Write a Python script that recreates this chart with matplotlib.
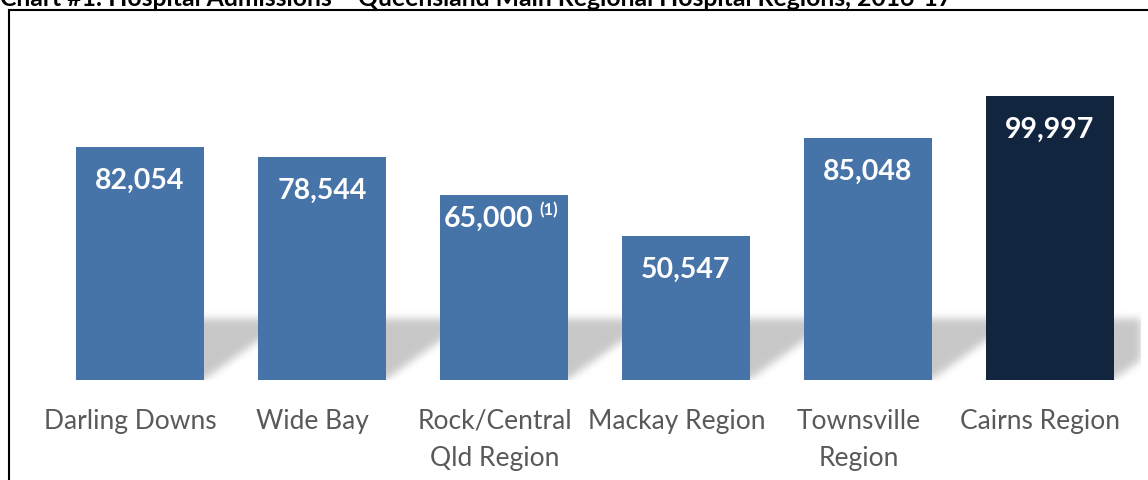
import matplotlib
matplotlib.use('Agg')
import matplotlib.pyplot as plt
import matplotlib.transforms as mtransforms
import numpy as np
from matplotlib.lines import Line2D

title = 'Chart #1: Hospital Admissions \u2013 Queensland Main Regional Hospital Regions, 2016-17'
regions = ['Darling Downs', 'Wide Bay', 'Rock/Central\nQld Region', 'Mackay Region',
           'Townsville\nRegion', 'Cairns Region']
admissions = [82054, 78544, 65000, 50547, 85048, 99997]
value_labels = ['82,054', '78,544', '65,000', '50,547', '85,048', '99,997']
footnotes = ['', '', '(1)', '', '', '']
bar_colors = ['#4673a8'] * 5 + ['#12253f']

plt.rcParams['font.family'] = ['Lato', 'DejaVu Sans']

fig = plt.figure(figsize=(11.48, 4.81), dpi=100)
W, H = 1148, 481
ax = fig.add_axes([49 / W, 100 / H, 1092 / W, 361 / H])

x = np.arange(len(regions))
width = 0.703
ymax = 127000

# soft perspective shadow behind each bar
sh_h = 21500      # shadow height in data units
sh_d = 0.47       # horizontal lean of the shadow
ny, nx = 110, 1092
ys = np.linspace(0, 38000, ny)
xs = np.linspace(-0.5, 5.5, nx)
XX, YY = np.meshgrid(xs, ys)
mask = np.zeros_like(XX)
for xi in x:
    shift = sh_d * np.clip(YY, 0, sh_h) / sh_h
    inside = (YY <= sh_h) & (XX >= xi - width / 2 + shift) & (XX <= xi + width / 2 + shift)
    mask[inside] = 1.0
k = np.exp(-0.5 * (np.arange(-12, 13) / 4.0) ** 2)
k /= k.sum()
mask = np.apply_along_axis(lambda r: np.convolve(r, k, mode='same'), 1, mask)
mask = np.apply_along_axis(lambda c: np.convolve(c, k, mode='same'), 0, mask)
shadow = np.zeros((ny, nx, 4))
shadow[..., 3] = mask * 0.22
ax.imshow(shadow, extent=(-0.5, 5.5, 0, 38000), origin='lower', aspect='auto', zorder=1)

ax.bar(x, admissions, width=width, color=bar_colors, zorder=2)

for xi, v, lab, fn in zip(x, admissions, value_labels, footnotes):
    if fn:
        ax.annotate(lab, (xi, v), xytext=(21, -16), textcoords='offset points',
                    ha='right', va='center', color='white', fontsize=20.5, fontweight='bold', zorder=3)
        ax.annotate(fn, (xi, v), xytext=(25.5, -10), textcoords='offset points',
                    ha='left', va='center', color='white', fontsize=12, fontweight='bold', zorder=3)
    else:
        ax.annotate(lab, (xi, v), xytext=(0, -23.5), textcoords='offset points',
                    ha='center', va='center', color='white', fontsize=20.5, fontweight='bold', zorder=3)

ax.set_xlim(-0.5, 5.5)
ax.set_ylim(0, ymax)
ax.set_xticks(x)
ax.set_xticklabels(regions, fontsize=19, color='#595959', linespacing=1.6)
ax.tick_params(axis='x', length=0, pad=20)
# category labels sit slightly left of the bar centres
nudge = mtransforms.ScaledTranslation(-9.5 / 100, 0, fig.dpi_scale_trans)
for t in ax.get_xticklabels():
    t.set_transform(t.get_transform() + nudge)
ax.set_yticks([])
for s in ax.spines.values():
    s.set_visible(False)

# chart frame and clipped title
fig.add_artist(Line2D([9 / W, 9 / W], [0, 1 - 10.5 / H], color='black', lw=1.5))
fig.add_artist(Line2D([9 / W, 1], [1 - 10.5 / H, 1 - 10.5 / H], color='black', lw=1.5))
fig.text(0.0, 1 - 6 / H, title, ha='left', va='baseline', fontsize=17.8, fontweight='bold', color='black')

fig.savefig('out.png', dpi=100)
